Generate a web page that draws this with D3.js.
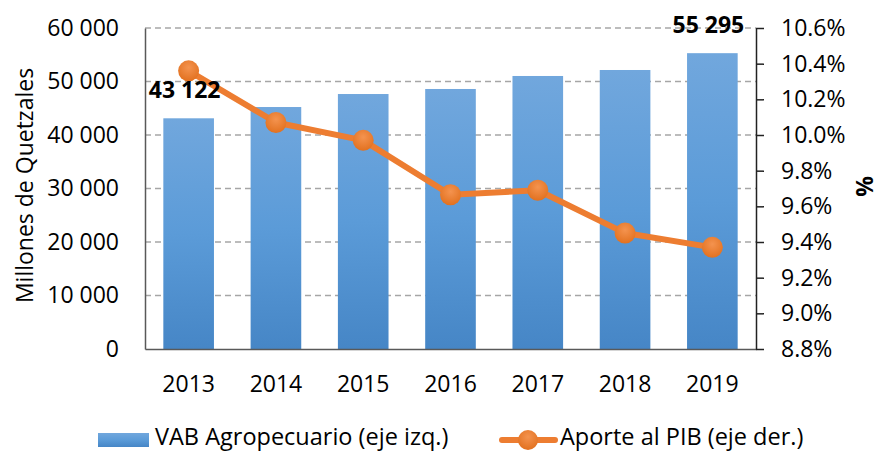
<!DOCTYPE html>
<html>
<head>
<meta charset="utf-8">
<script src="https://cdn.jsdelivr.net/npm/d3@7"></script>
<style>
  body { margin: 0; background: #fff; }
  svg { font-family: "Open Sans", Lato, sans-serif; }
</style>
</head>
<body>
<div id="chart"></div>
<script>
// data
const years = ["2013", "2014", "2015", "2016", "2017", "2018", "2019"];
const vab = [43122, 45230, 47660, 48600, 51030, 52150, 55295];
const aporte = [10.36, 10.07, 9.97, 9.665, 9.69, 9.45, 9.37];
const leftTicks = [0, 10000, 20000, 30000, 40000, 50000, 60000];
const rightTicks = [8.8, 9.0, 9.2, 9.4, 9.6, 9.8, 10.0, 10.2, 10.4, 10.6];
const labelled = [0, 6];
const legendNames = ["VAB Agropecuario (eje izq.)", "Aporte al PIB (eje der.)"];

const settings = {
  width: 880,
  height: 451,
  left: 145,
  right: 756,
  top: 28,
  bottom: 349,
  fontSize: "23px",
  legendSize: "23.5px",
  font: "'Open Sans', Lato, sans-serif",
  orange: "#ED7D31",
  axisColor: "#595959",
};

const svg = d3.select("#chart")
  .append("svg")
  .attr("width", settings.width)
  .attr("height", settings.height);

const defs = svg.append("defs");

const barGrad = defs.append("linearGradient")
  .attr("id", "barGrad")
  .attr("x1", 0).attr("y1", 0).attr("x2", 0).attr("y2", 1);
barGrad.append("stop").attr("offset", "0%").attr("stop-color", "#71a7dd");
barGrad.append("stop").attr("offset", "50%").attr("stop-color", "#5b9bd8");
barGrad.append("stop").attr("offset", "100%").attr("stop-color", "#4686c6");

const dotGrad = defs.append("radialGradient")
  .attr("id", "dotGrad")
  .attr("cx", "50%").attr("cy", "35%").attr("r", "65%");
dotGrad.append("stop").attr("offset", "0%").attr("stop-color", "#f4934f");
dotGrad.append("stop").attr("offset", "100%").attr("stop-color", "#e2711f");

const x = d3.scaleBand()
  .domain(years)
  .range([settings.left, settings.right])
  .paddingInner(0.42)
  .paddingOuter(0.21);

const yLeft = d3.scaleLinear()
  .domain([0, 60000])
  .range([settings.bottom, settings.top]);

const yRight = d3.scaleLinear()
  .domain([8.8, 10.6])
  .range([settings.bottom, settings.top]);

const spaceLocale = d3.formatLocale({ decimal: ".", thousands: " ", grouping: [3], currency: ["", ""] });
const fmtLeft = spaceLocale.format(",d");
const fmtRight = d => d3.format(".1f")(d) + "%";

// gridlines
svg.append("g")
  .selectAll("line")
  .data(leftTicks.filter(d => d > 0))
  .join("line")
  .attr("x1", settings.left)
  .attr("x2", settings.right)
  .attr("y1", d => yLeft(d))
  .attr("y2", d => yLeft(d))
  .attr("stroke", "#a6a6a6")
  .attr("stroke-width", 1.3)
  .attr("stroke-dasharray", "6,4");

// bars
svg.append("g")
  .selectAll("rect")
  .data(vab)
  .join("rect")
  .attr("x", (d, i) => x(years[i]))
  .attr("width", x.bandwidth())
  .attr("y", d => yLeft(d))
  .attr("height", d => settings.bottom - yLeft(d))
  .attr("fill", "url(#barGrad)");

// left axis
const leftAxis = svg.append("g")
  .attr("transform", `translate(${settings.left},0)`)
  .call(d3.axisLeft(yLeft).tickValues(leftTicks).tickFormat(fmtLeft).tickSize(0).tickPadding(26));
leftAxis.select(".domain").attr("stroke", settings.axisColor).attr("stroke-width", 1.5);
leftAxis.selectAll("text")
  .attr("font-family", settings.font)
  .attr("font-size", settings.fontSize)
  .attr("fill", "#000");

// bottom axis
const bottomAxis = svg.append("g")
  .attr("transform", `translate(0,${settings.bottom})`)
  .call(d3.axisBottom(x).tickSize(0).tickPadding(27));
bottomAxis.select(".domain").attr("stroke", settings.axisColor).attr("stroke-width", 1.5);
bottomAxis.selectAll("text")
  .attr("font-family", settings.font)
  .attr("font-size", settings.fontSize)
  .attr("fill", "#000");

// right axis
const rightAxis = svg.append("g")
  .attr("transform", `translate(${settings.right},0)`)
  .call(d3.axisRight(yRight).tickValues(rightTicks).tickFormat(fmtRight).tickSize(8).tickSizeOuter(0).tickPadding(17));
rightAxis.select(".domain").attr("stroke", "#222").attr("stroke-width", 1.5);
rightAxis.selectAll(".tick line").attr("stroke", "#222").attr("stroke-width", 1.5);
rightAxis.selectAll("text")
  .attr("font-family", settings.font)
  .attr("font-size", settings.fontSize)
  .attr("fill", "#000");

// line
const line = d3.line()
  .x((d, i) => x(years[i]) + x.bandwidth() / 2)
  .y(d => yRight(d));

svg.append("path")
  .datum(aporte)
  .attr("d", line)
  .attr("fill", "none")
  .attr("stroke", settings.orange)
  .attr("stroke-width", 6)
  .attr("stroke-linejoin", "round");

svg.append("g")
  .selectAll("circle")
  .data(aporte)
  .join("circle")
  .attr("cx", (d, i) => x(years[i]) + x.bandwidth() / 2)
  .attr("cy", d => yRight(d))
  .attr("r", 10.5)
  .attr("fill", "url(#dotGrad)");

// data labels
svg.append("g")
  .selectAll("text")
  .data(labelled)
  .join("text")
  .attr("x", i => x(years[i]) + x.bandwidth() / 2 - 4)
  .attr("y", i => yLeft(vab[i]) - 20)
  .attr("text-anchor", "middle")
  .attr("font-size", settings.fontSize)
  .attr("font-weight", "bold")
  .text(i => fmtLeft(vab[i]));

// axis titles
svg.append("text")
  .attr("transform", `translate(33,${(settings.top + settings.bottom) / 2 - 3}) rotate(-90)`)
  .attr("text-anchor", "middle")
  .attr("font-size", settings.fontSize)
  .text("Millones de Quetzales");

svg.append("text")
  .attr("transform", `translate(873,${(settings.top + settings.bottom) / 2 - 2}) rotate(-90)`)
  .attr("text-anchor", "middle")
  .attr("font-size", settings.fontSize)
  .attr("font-weight", "bold")
  .text("%");

// legend
const legend = svg.append("g");
legend.append("rect")
  .attr("x", 98).attr("y", 433)
  .attr("width", 51).attr("height", 14)
  .attr("fill", "url(#barGrad)");
legend.append("text")
  .attr("x", 155).attr("y", 445)
  .attr("font-size", settings.legendSize)
  .text(legendNames[0]);

legend.append("line")
  .attr("x1", 502).attr("x2", 555)
  .attr("y1", 440).attr("y2", 440)
  .attr("stroke", settings.orange)
  .attr("stroke-width", 6)
  .attr("stroke-linecap", "round");
legend.append("circle")
  .attr("cx", 528).attr("cy", 440)
  .attr("r", 10)
  .attr("fill", "url(#dotGrad)");
legend.append("text")
  .attr("x", 560).attr("y", 445)
  .attr("font-size", settings.legendSize)
  .text(legendNames[1]);
</script>
</body>
</html>
